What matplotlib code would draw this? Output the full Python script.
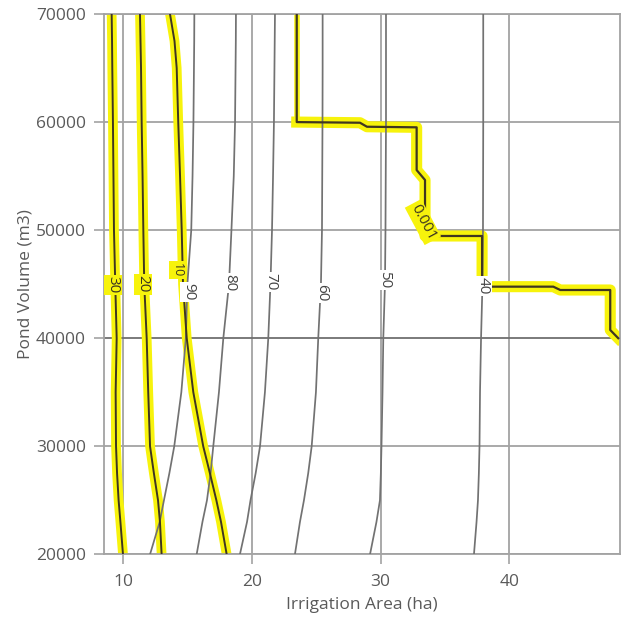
import matplotlib
matplotlib.use("Agg")
import matplotlib.pyplot as plt

# ---------------- data ----------------
vol = [20000, 23000, 25000, 27500, 30000, 35000, 40000, 45000, 50000, 55000, 60000, 65000, 67500, 70000]

# highlighted curves (area, ha) at each pond volume
area_30 = [10.00, 9.80, 9.66, 9.54, 9.46, 9.43, 9.51, 9.40, 9.30, 9.26, 9.22, 9.17, 9.15, 9.12]
area_20 = [13.00, 12.87, 12.72, 12.40, 12.10, 11.96, 11.84, 11.65, 11.58, 11.52, 11.45, 11.40, 11.36, 11.32]
area_10 = [18.05, 17.61, 17.25, 16.75, 16.23, 15.46, 14.95, 14.66, 14.56, 14.43, 14.29, 14.17, 14.00, 13.65]

# grey contour curves
area_90 = [12.10, 12.85, 13.18, 13.60, 13.98, 14.53, 14.88, 15.00, 15.30, 15.40, 15.47, 15.51, 15.53, 15.54]
area_80 = [15.72, 16.17, 16.52, 16.80, 17.01, 17.45, 17.79, 18.23, 18.42, 18.60, 18.70, 18.74, 18.76, 18.77]
area_70 = [19.08, 19.63, 19.90, 20.30, 20.64, 21.02, 21.28, 21.45, 21.57, 21.65, 21.72, 21.76, 21.78, 21.80]
area_60 = [23.35, 23.74, 24.05, 24.38, 24.65, 24.98, 25.16, 25.37, 25.45, 25.47, 25.49, 25.50, 25.50, 25.50]
area_50 = [29.18, 29.68, 29.95, 30.02, 30.07, 30.15, 30.21, 30.34, 30.38, 30.40, 30.42, 30.42, 30.42, 30.42]
area_40 = [37.25, 37.45, 37.56, 37.63, 37.68, 37.72, 37.80, 37.91, 37.95, 37.96, 37.97, 37.97, 37.97, 37.97]

# stepped 0.001 curve
step_area = [23.49, 23.49, 28.40, 28.94, 32.80, 32.80, 33.45, 33.45, 37.88, 37.88,
             43.41, 43.95, 47.83, 47.83, 48.45]
step_vol = [70000, 60000, 59940, 59570, 59515, 55560, 54640, 49460, 49460, 44770,
            44770, 44460, 44460, 40760, 40000]

grey_levels = ["90", "80", "70", "60", "50", "40"]
hl_levels = ["30", "20", "10"]

# label positions (area, volume)
grey_label_x = [15.12, 18.31, 21.49, 25.45, 30.34, 37.95]
grey_label_y = [44270, 45100, 45200, 44180, 45380, 44830]
hl_label_x = [9.22, 11.55, 14.20]
hl_label_y = [44920, 45010, 46300]
step_label = "0.001"
step_label_x, step_label_y = 33.29, 50750

x_ticks = [10, 20, 30, 40]
y_ticks = [20000, 30000, 40000, 50000, 60000, 70000]

# ---------------- style ----------------
plt.rcParams['font.family'] = ['Open Sans', 'DejaVu Sans']
txt = '#5a5a5a'
grid_c = '#a3a3a3'
yellow = '#f7f30c'
dark = '#3f3620'
grey_line = '#727272'

fig = plt.figure(figsize=(6.31, 6.26), dpi=100)
ax = fig.add_axes([0.1648, 0.1145, 0.8178, 0.8631])
ax.set_xlim(8.525, 48.59)
ax.set_ylim(20000, 70000)

# grid
for xv in x_ticks:
    ax.axvline(xv, color=grid_c, lw=1.3, zorder=1)
for yv in y_ticks:
    ax.axhline(yv, color=('#6f6f6f' if yv == 40000 else grid_c), lw=1.3, zorder=1)

# grey contours
grey_curves = [area_90, area_80, area_70, area_60, area_50, area_40]
for curve in grey_curves:
    ax.plot(curve, vol, color=grey_line, lw=1.25, zorder=3)

# highlighted curves
hl_curves = [area_30, area_20, area_10]
for curve in hl_curves:
    ax.plot(curve, vol, color=yellow, lw=7, zorder=2, solid_capstyle='butt',
            solid_joinstyle='round')
    ax.plot(curve, vol, color=dark, lw=1.4, zorder=4)
ax.plot(step_area[:2], step_vol[:2], color=yellow, lw=4, zorder=2, solid_capstyle='butt')
ax.plot(step_area[1:], step_vol[1:], color=yellow, lw=8, zorder=2, solid_joinstyle='round')
ax.plot(step_area, step_vol, color=dark, lw=1.6, zorder=4)

# labels
for lab, lx, ly in zip(grey_levels, grey_label_x, grey_label_y):
    ax.text(lx, ly, lab, rotation=-90, ha='center', va='center', fontsize=11,
            color='#444444', zorder=5,
            bbox=dict(boxstyle='square,pad=0.1', fc='white', ec='none'))
for lab, lx, ly in zip(hl_levels, hl_label_x, hl_label_y):
    ax.text(lx, ly, lab, rotation=-90, ha='center', va='center',
            fontsize=(11 if lab != "10" else 9),
            color='#3a3520', zorder=5,
            bbox=dict(boxstyle='square,pad=0.12', fc=yellow, ec='none'))
ax.text(step_label_x, step_label_y, step_label, rotation=-62, ha='center', va='center',
        fontsize=11, color='#3a3520', zorder=5,
        bbox=dict(boxstyle='square,pad=0.12', fc=yellow, ec='none'))

# axes styling
ax.set_xticks(x_ticks)
ax.set_yticks(y_ticks)
ax.set_xticklabels([str(v) for v in x_ticks])
ax.set_yticklabels([str(v) for v in y_ticks])
ax.tick_params(axis='both', colors=grid_c, labelcolor=txt, labelsize=12.5,
               length=7, width=1.2, direction='out')
ax.tick_params(axis='y', pad=6)
ax.tick_params(axis='x', pad=7)
for s in ['left', 'bottom', 'right', 'top']:
    ax.spines[s].set_color(grid_c)
    ax.spines[s].set_linewidth(1.3)
ax.set_xlabel('Irrigation Area (ha)', fontsize=12.5, color=txt, labelpad=5)
ax.set_ylabel('Pond Volume (m3)', fontsize=12.5, color=txt, labelpad=2)

fig.savefig('out.png', dpi=100)
